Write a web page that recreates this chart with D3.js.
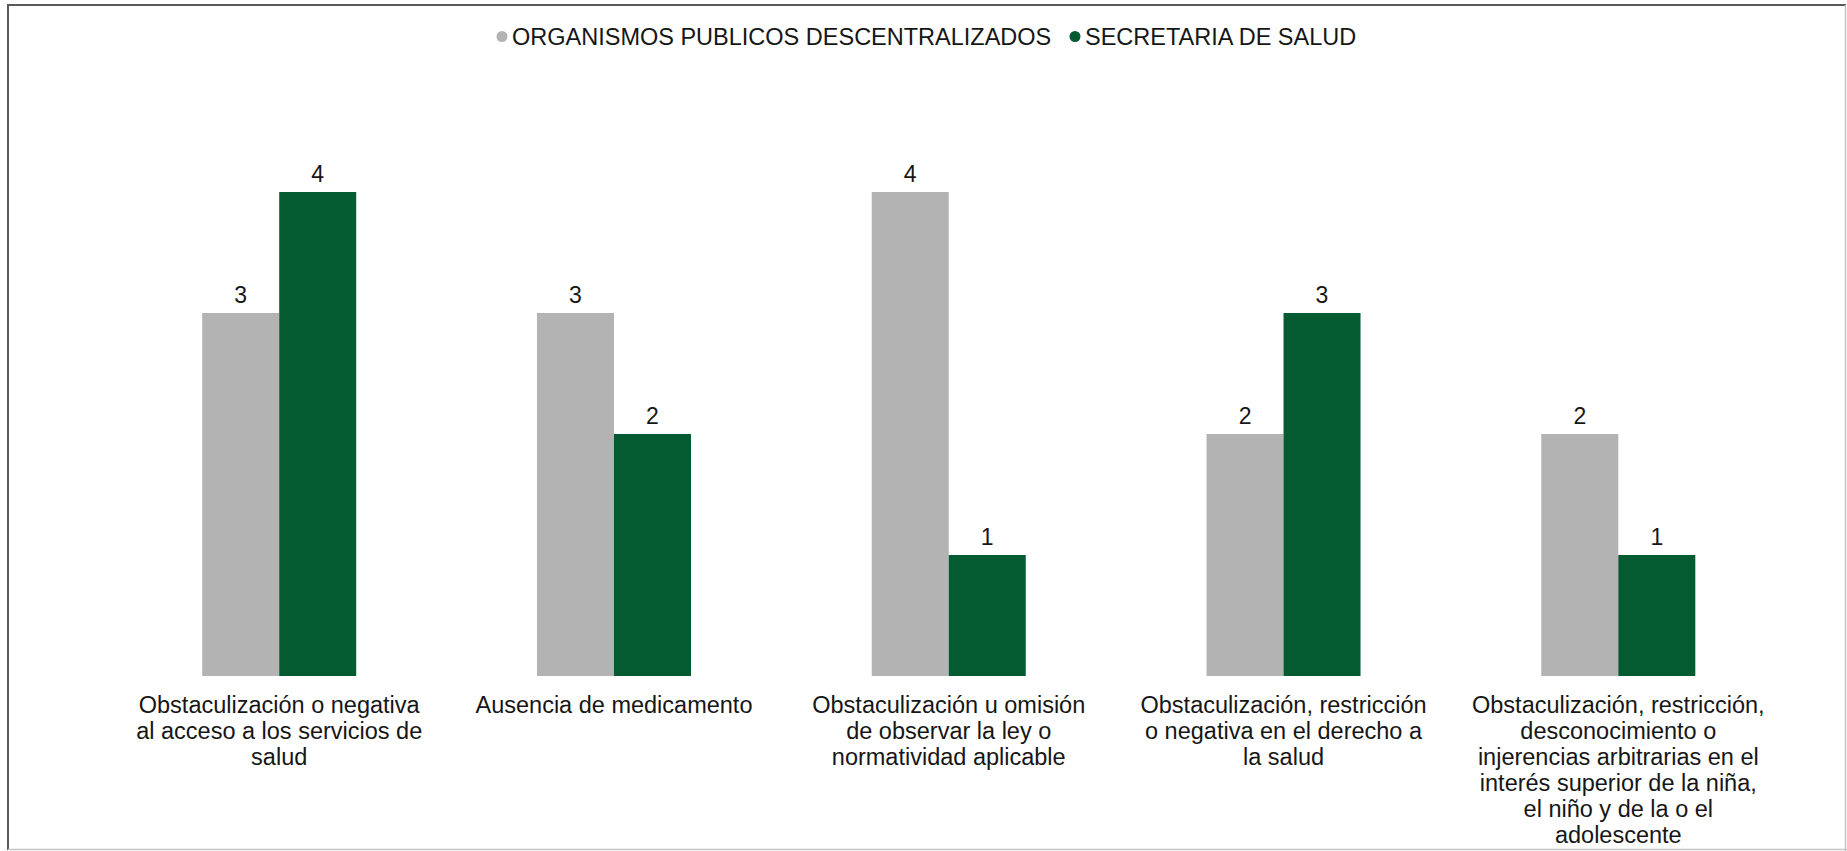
<!DOCTYPE html>
<html>
<head>
<meta charset="utf-8">
<script src="https://cdn.jsdelivr.net/npm/d3@7"></script>
<style>
  html, body { margin: 0; padding: 0; background: #fff; }
  svg { display: block; }
  text { font-family: "Liberation Sans", Arial, sans-serif; fill: #161616; }
</style>
</head>
<body>
<svg id="chart" width="1847" height="851"></svg>
<script>
// Complaint categories (each entry holds the wrapped lines of its label)
const categories = [
  ["Obstaculización o negativa", "al acceso a los servicios de", "salud"],
  ["Ausencia de medicamento"],
  ["Obstaculización u omisión", "de observar la ley o", "normatividad aplicable"],
  ["Obstaculización, restricción", "o negativa en el derecho a", "la salud"],
  ["Obstaculización, restricción,", "desconocimiento o", "injerencias arbitrarias en el", "interés superior de la niña,", "el niño y de la o el", "adolescente"]
];
const seriesNames = ["ORGANISMOS PUBLICOS DESCENTRALIZADOS", "SECRETARIA DE SALUD"];
const organismosValues = [3, 3, 4, 2, 2];
const secretariaValues = [4, 2, 1, 3, 1];
const seriesColors = ["#b3b3b3", "#045a31"];

const svg = d3.select("#chart");
const keys = categories.map((c, i) => i);
const seriesValues = [organismosValues, secretariaValues];

// Frame around the chart area
const frame = svg.append("g");
frame.append("line").attr("x1", 8).attr("y1", 5).attr("x2", 8).attr("y2", 850)
  .attr("stroke", "#5a5a5a").attr("stroke-width", 2);
frame.append("line").attr("x1", 7).attr("y1", 5).attr("x2", 1846).attr("y2", 5)
  .attr("stroke", "#5a5a5a").attr("stroke-width", 2);
frame.append("line").attr("x1", 1845.5).attr("y1", 5).attr("x2", 1845.5).attr("y2", 851)
  .attr("stroke", "#c4c4c4").attr("stroke-width", 1.5);
frame.append("line").attr("x1", 8).attr("y1", 849.5).attr("x2", 1847).attr("y2", 849.5)
  .attr("stroke", "#c4c4c4").attr("stroke-width", 1.5);

// Scales
const x = d3.scalePoint().domain(keys).range([279.2, 1618.3]);
const xInner = d3.scaleBand().domain([0, 1]).range([-77, 77]).padding(0);
const y = d3.scaleLinear().domain([0, 4]).range([676, 192]);

// Bars
const groups = svg.append("g").selectAll("g")
  .data(keys).join("g")
  .attr("transform", d => `translate(${x(d)},0)`);

groups.selectAll("rect")
  .data(d => seriesValues.map((vals, s) => ({ s, v: vals[d] })))
  .join("rect")
  .attr("x", d => xInner(d.s))
  .attr("width", xInner.bandwidth())
  .attr("y", d => y(d.v))
  .attr("height", d => y(0) - y(d.v))
  .attr("fill", d => seriesColors[d.s]);

// Value labels
groups.selectAll("text.value")
  .data(d => seriesValues.map((vals, s) => ({ s, v: vals[d] })))
  .join("text")
  .attr("class", "value")
  .attr("x", d => xInner(d.s) + xInner.bandwidth() / 2)
  .attr("y", d => y(d.v) - 10)
  .attr("text-anchor", "middle")
  .attr("font-size", 23)
  .text(d => d.v);

// Category labels
groups.append("text")
  .attr("text-anchor", "middle")
  .attr("font-size", 23.5)
  .selectAll("tspan")
  .data(d => categories[d])
  .join("tspan")
  .attr("x", 0)
  .attr("y", (d, i) => 713 + i * 26)
  .text(d => d);

// Legend
const legendItems = [
  { name: seriesNames[0], color: seriesColors[0], cx: 502 },
  { name: seriesNames[1], color: seriesColors[1], cx: 1075 }
];
const legend = svg.append("g");
legend.selectAll("circle").data(legendItems).join("circle")
  .attr("cx", d => d.cx).attr("cy", 36.5).attr("r", 5.5)
  .attr("fill", d => d.color);
legend.selectAll("text").data(legendItems).join("text")
  .attr("x", d => d.cx + 10)
  .attr("y", 44.5)
  .attr("font-size", 23.5)
  .text(d => d.name);
</script>
</body>
</html>
